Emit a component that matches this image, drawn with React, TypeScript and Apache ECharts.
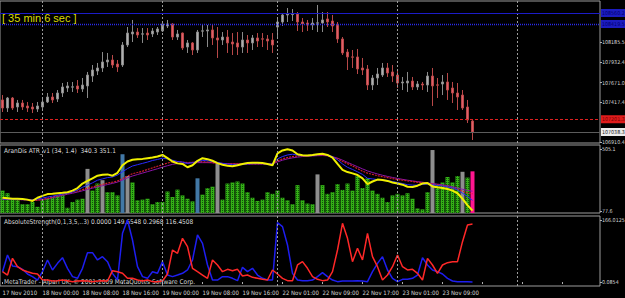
import React, { useEffect, useRef } from "react";
import * as echarts from "echarts";

// ---------- data ----------
const N_SLOTS = 120; // 95 hourly bars + empty chart shift on the right
const TICK_STEP = 8;
const TICK_LABELS = [
  "17 Nov 2010", "18 Nov 00:00", "18 Nov 08:00", "18 Nov 16:00",
  "19 Nov 00:00", "19 Nov 08:00", "19 Nov 16:00", "22 Nov 01:00",
  "22 Nov 09:00", "22 Nov 17:00", "23 Nov 01:00", "23 Nov 09:00",
];
const DAY_BREAKS = [8, 32, 55, 79, 103];

// [open, close, low, high]
const candles = [
  [107448, 107345, 107294, 107511], [107345, 107473, 107294, 107486], [107473, 107345, 107320, 107486], [107358, 107409, 107294, 107448], [107409, 107358, 107320, 107448],
  [107371, 107345, 107294, 107422], [107358, 107332, 107281, 107409], [107332, 107371, 107294, 107422], [107358, 107422, 107320, 107473], [107422, 107486, 107409, 107537],
  [107486, 107448, 107409, 107537], [107460, 107537, 107422, 107575], [107537, 107614, 107486, 107665], [107601, 107627, 107550, 107678], [107612, 107616, 107550, 107678],
  [107627, 107588, 107537, 107703], [107588, 107639, 107550, 107729], [107627, 107767, 107473, 107806], [107754, 107831, 107678, 107895], [107818, 107857, 107767, 107921],
  [107857, 107934, 107806, 108061], [107934, 107959, 107870, 108049], [107959, 107895, 107857, 108023], [107908, 107870, 107806, 107959], [107895, 108151, 107870, 108189],
  [108151, 108304, 108125, 108381], [108292, 108317, 108189, 108471], [108317, 108279, 108241, 108368], [108290, 108294, 108177, 108368], [108304, 108279, 108215, 108368],
  [108292, 108330, 108253, 108368], [108317, 108356, 108279, 108381], [108330, 108420, 108317, 108445], [108394, 108420, 108368, 108471], [108420, 108253, 108215, 108432],
  [108253, 108292, 108215, 108343], [108304, 108113, 108087, 108310], [108125, 108177, 108049, 108215], [108177, 108087, 108023, 108189], [108087, 108317, 108049, 108343],
  [108328, 108332, 108253, 108407], [108330, 108343, 108125, 108407], [108343, 108241, 108151, 108407], [108241, 108215, 107985, 108381], [108215, 108253, 108151, 108317],
  [108253, 108177, 108049, 108343], [108189, 108164, 108023, 108304], [108177, 108125, 108023, 108317], [108125, 108215, 108049, 108317], [108215, 108177, 108049, 108279],
  [108177, 108241, 108087, 108279], [108241, 108202, 108125, 108304], [108230, 108226, 108125, 108304], [108228, 108202, 108087, 108279], [108215, 108151, 108049, 108304],
  [108381, 108445, 108253, 108509], [108445, 108535, 108394, 108560], [108535, 108547, 108445, 108624], [108540, 108552, 108458, 108611], [108547, 108445, 108330, 108573],
  [108445, 108420, 108317, 108496], [108432, 108407, 108330, 108471], [108407, 108432, 108343, 108496], [108430, 108434, 108317, 108663], [108432, 108471, 108317, 108573],
  [108484, 108445, 108381, 108573], [108458, 108394, 108317, 108535], [108407, 108228, 108177, 108445], [108228, 108049, 108023, 108253], [108061, 107998, 107831, 108100],
  [107999, 107995, 107857, 108087], [107998, 107844, 107780, 108100], [107857, 107831, 107767, 107985], [107844, 107639, 107575, 107895], [107639, 107729, 107575, 107767],
  [107729, 107780, 107639, 107857], [107767, 107857, 107742, 107921], [107857, 107793, 107742, 107921], [107806, 107754, 107678, 107895], [107767, 107665, 107601, 107831],
  [107665, 107678, 107575, 107742], [107665, 107690, 107550, 107806], [107690, 107614, 107575, 107742], [107614, 107652, 107575, 107690], [107652, 107639, 107575, 107678],
  [107639, 107754, 107550, 107806], [107754, 107627, 107371, 107857], [107641, 107637, 107473, 107729], [107652, 107678, 107511, 107767], [107678, 107575, 107448, 107793],
  [107601, 107537, 107409, 107678], [107537, 107486, 107320, 107665], [107511, 107345, 107320, 107575], [107358, 107192, 107153, 107448], [107179, 107038.3, 106936, 107192],
];

const PRICE_TICKS = [106910.4, 107417.4, 107671.0, 107932.4, 108185.5];
const LEVEL_BLUE_SOLID = 108560.2;
const LEVEL_BLUE_DOTTED = 108419.5;
const LEVEL_RED = 107201.3;
const LEVEL_BID = 107038.3;

// AranDis ATR panel
const ATR_TICKS = [77.6, 505.1];
const atrHist = [
  218, 200, 162, 156, 124, 124, 140, 106, 151, 162,
  174, 185, 189, 100, 140, 156, 162, 368, 218, 267,
  290, 207, 207, 185, 469, 319, 274, 151, 156, 162,
  124, 140, 140, 212, 174, 225, 185, 162, 144, 303,
  190, 235, 245, 402, 156, 267, 274, 281, 267, 207,
  169, 147, 156, 207, 196, 218, 169, 151, 124, 256,
  151, 129, 124, 330, 256, 196, 207, 263, 223, 267,
  218, 319, 236, 303, 218, 196, 169, 140, 185, 196,
  185, 200, 162, 95, 89, 207, 498, 263, 274, 312,
  274, 319, 348, 308, 351.1,
];
const grayBarIdx = [17, 20, 25, 43, 63, 86, 92];
const blueBarIdx = [24, 39];
const pinkBarIdx = [94];

const atrYellow = [
  169, 165, 162, 162, 160, 156, 147, 169, 182, 194,
  196, 200, 203, 207, 218, 236, 267, 285, 303, 321,
  328, 330, 321, 341, 393, 419, 431, 435, 437, 442,
  446, 453, 464, 442, 419, 406, 402, 379, 393, 424,
  442, 435, 424, 408, 397, 390, 386, 393, 402, 408,
  411, 411, 408, 402, 393, 475, 495, 504, 495, 469,
  462, 460, 464, 469, 473, 464, 446, 402, 361, 346,
  337, 326, 303, 263, 281, 294, 292, 285, 274, 267,
  259, 245, 243, 252, 267, 270, 247, 241, 236, 229,
  218, 200, 162, 118, 80,
];
const atrBlue = [
  160, 160, 158, 158, 156, 156, 153, 160, 167, 174,
  180, 187, 194, 200, 209, 223, 241, 256, 272, 290,
  299, 308, 312, 326, 348, 370, 388, 397, 406, 415,
  426, 433, 442, 437, 428, 419, 415, 406, 411, 419,
  426, 424, 419, 413, 406, 402, 397, 397, 399, 402,
  404, 404, 404, 402, 402, 437, 453, 464, 469, 464,
  460, 460, 462, 466, 469, 464, 453, 431, 402, 379,
  364, 348, 330, 303, 299, 294, 292, 288, 281, 274,
  267, 259, 256, 256, 261, 263, 259, 254, 250, 243,
  236, 223, 200, 178, 151,
];
const atrRed = [
  162, 160, 158, 156, 156, 153, 151, 151, 156, 165,
  174, 183, 191, 200, 207, 216, 225, 234, 243, 252,
  261, 270, 276, 285, 301, 319, 335, 343, 352, 364,
  375, 386, 397, 408, 417, 419, 415, 411, 413, 419,
  417, 415, 411, 406, 404, 402, 402, 402, 402, 402,
  402, 402, 402, 402, 404, 424, 437, 446, 453, 457,
  460, 460, 462, 464, 464, 460, 451, 437, 419, 404,
  388, 370, 352, 339, 330, 321, 314, 308, 301, 294,
  290, 285, 281, 276, 272, 267, 263, 259, 252, 245,
  236, 225, 214, 203, 196,
];
const atrPurple = [
  160, 159, 158, 157, 156, 155, 154, 154, 157, 162,
  169, 177, 185, 193, 200, 208, 217, 226, 235, 244,
  252, 260, 268, 277, 291, 306, 319, 329, 339, 349,
  359, 369, 380, 390, 399, 405, 408, 409, 410, 411,
  411, 411, 410, 408, 406, 404, 403, 402, 402, 402,
  402, 402, 402, 402, 403, 416, 428, 437, 444, 449,
  453, 455, 457, 459, 460, 458, 452, 442, 428, 413,
  398, 383, 368, 354, 343, 333, 324, 316, 309, 302,
  296, 290, 285, 280, 276, 271, 267, 263, 258, 252,
  245, 236, 227, 220, 214,
];

// AbsoluteStrength panel
const AS_TICKS = [0.0854, 166.0125];
const asBlue = [
  27.7, 72.3, 42.9, 41.1, 34.0, 21.5, 14.4, 5.4, 27.7, 59.0,
  32.2, 50.0, 65.2, 36.7, 14.4, 9.9, 36.7, 78.6, 78.6, 59.0,
  67.9, 54.5, 23.3, 5.4, 130.3, 166.0, 112.5, 41.1, 14.4, 9.9,
  27.7, 23.3, 54.5, 18.8, 14.4, 18.8, 23.3, 32.2, 59.0, 125.9,
  103.6, 45.6, 5.4, 5.4, 14.4, 14.4, 9.9, 3.7, 39.3, 27.7,
  36.7, 18.8, 9.9, 5.4, 5.4, 158.9, 148.2, 99.1, 23.3, 5.4,
  3.7, 3.7, 5.4, 14.4, 25.1, 14.4, 5.4, 1.0, 2.8, 2.8,
  2.8, 3.7, 2.8, 1.0, 27.7, 50.0, 67.9, 32.2, 9.9, 1.0,
  7.2, 7.2, 9.9, 18.8, 65.2, 45.6, 32.2, 27.7, 21.5, 9.9,
  2.8, 1.0, 1.0, 1.0, 0.3,
];
const asRed = [
  27.7, 18.8, 63.4, 41.1, 32.2, 27.7, 23.3, 21.5, 5.4, 5.4,
  2.8, 3.7, 5.4, 3.7, 1.0, 2.8, 3.7, 2.8, 1.0, 2.8,
  3.7, 2.8, 30.4, 27.7, 23.3, 9.9, 9.9, 5.4, 2.8, 5.4,
  1.0, 1.0, 2.8, 21.5, 85.7, 76.8, 116.9, 94.6, 36.7, 27.7,
  18.8, 9.9, 59.0, 45.6, 27.7, 34.0, 30.4, 34.0, 16.2, 18.8,
  12.6, 9.9, 7.2, 5.4, 32.2, 21.5, 9.9, 3.7, 3.7, 45.6,
  54.5, 36.7, 14.4, 7.2, 3.7, 5.4, 27.7, 85.7, 157.1, 116.9,
  54.5, 90.2, 59.0, 130.3, 67.9, 41.1, 5.4, 18.8, 41.1, 72.3,
  41.1, 32.2, 34.0, 23.3, 5.4, 63.4, 45.6, 23.3, 45.6, 51.8,
  54.5, 54.5, 108.0, 152.6, 155.0,
];

const TIMER_TEXT = "[ 35 min 6 sec ]";
const ATR_TITLE = "AranDis ATR_v1 (34, 1.4)  340.3 351.1";
const AS_TITLE = "AbsoluteStrength(0,1,3,5,..3) 0.0000 149.6548 0.2968 116.4508";
const COPYRIGHT = "MetaTrader - Alpari UK, \u00a9 2001-2009 MetaQuotes Software Corp.";

// ---------- styles ----------
const FONT = "'Liberation Sans Narrow', 'DejaVu Sans Condensed', 'Liberation Sans', Arial, sans-serif";
const TXT = "#d8d8d8";
const FS = 6.5;
const AXIS_FS = 5.3;

export default function App() {
  const ref = useRef<HTMLDivElement>(null);

  useEffect(() => {
    document.body.style.margin = "0";
    document.body.style.background = "#000";
    const chart = echarts.init(ref.current!, null, { renderer: "svg" });
    const slots = Array.from({ length: N_SLOTS }, (_, i) => String(i));

    const dayLineStyle = { color: "#9c9c9c", width: 1, type: [2, 2] as number[] };
    const dayLines = DAY_BREAKS.map((i) => ({ xAxis: String(i), lineStyle: dayLineStyle }));

    const priceLabel = (text: string, bg: string, fg: string) => ({
      show: true,
      position: "end",
      distance: 1,
      formatter: text,
      color: fg,
      backgroundColor: bg,
      padding: [1, 1, 0, 1],
      fontSize: AXIS_FS,
      lineHeight: 7,
      fontFamily: FONT,
    });

    const grids = [
      { left: 0, right: 25, top: 1, height: 142 },
      { left: 0, right: 25, top: 145, height: 68 },
      { left: 0, right: 25, top: 216, height: 70 },
    ].map((g) => ({
      ...g,
      show: true,
      containLabel: false,
      outerBoundsMode: "none",
      borderColor: "#9c9c9c",
      borderWidth: 1,
      backgroundColor: "transparent",
    }));

    const xAxes = [0, 1, 2].map((gi) => ({
      type: "category",
      gridIndex: gi,
      data: slots,
      boundaryGap: true,
      axisLine: { show: false },
      splitLine: { show: false },
      axisTick:
        gi === 2
          ? { show: true, interval: TICK_STEP - 1, alignWithLabel: true, length: 2, lineStyle: { color: "#b0b0b0" } }
          : { show: false },
      axisLabel:
        gi === 2
          ? {
              show: true,
              interval: TICK_STEP - 1,
              align: "left",
              margin: 3,
              color: TXT,
              fontSize: 6,
              fontFamily: FONT,
              formatter: (_v: string, idx: number) =>
                idx % TICK_STEP === 0 ? TICK_LABELS[idx / TICK_STEP] ?? "" : "",
            }
          : { show: false },
    }));

    const yAxis = (gi: number, min: number, max: number, ticks: number[], digits: number) => ({
      type: "value",
      gridIndex: gi,
      position: "right",
      min,
      max,
      scale: true,
      axisLine: { show: false },
      splitLine: { show: false },
      axisTick: { show: true, length: 2, customValues: ticks, lineStyle: { color: "#b0b0b0" } },
      axisLabel: {
        show: true,
        customValues: ticks,
        margin: 2,
        color: TXT,
        fontSize: AXIS_FS,
        fontFamily: FONT,
        formatter: (v: number) => v.toFixed(digits),
      },
    });

    const histData = atrHist.map((v, i) => {
      let color = "#34b016";
      let decal: any = { symbol: "rect", symbolSize: 1, color: "rgba(0,45,0,0.7)", dashArrayX: [1, 1], dashArrayY: [1, 1] };
      if (grayBarIdx.includes(i)) { color = "#8e8e8e"; decal = undefined; }
      if (blueBarIdx.includes(i)) { color = "#4278a6"; decal = undefined; }
      if (pinkBarIdx.includes(i)) { color = "#ff1690"; decal = undefined; }
      return { value: v, itemStyle: decal ? { color, decal } : { color } };
    });

    const line = (xi: number, data: number[], color: string, width: number, type: any = "solid", z = 3) => ({
      type: "line",
      xAxisIndex: xi,
      yAxisIndex: xi,
      data,
      symbol: "none",
      z,
      lineStyle: { color, width, type },
      silent: true,
    });

    const option: any = {
      animation: false,
      backgroundColor: "#000000",
      grid: grids,
      xAxis: xAxes,
      yAxis: [
        yAxis(0, 106897.5, 108713.7, PRICE_TICKS, 1),
        yAxis(1, 63.8, 532.7, ATR_TICKS, 1),
        yAxis(2, -10.62, 176.7, AS_TICKS, 4),
      ],
      series: [
        {
          type: "candlestick",
          xAxisIndex: 0,
          yAxisIndex: 0,
          data: candles,
          barWidth: 3,
          itemStyle: {
            color: "#b0b0b0",
            color0: "#e0606a",
            borderColor: "#8a8a8a",
            borderColor0: "#b84848",
            borderWidth: 1,
          },
          markLine: {
            silent: true,
            symbol: ["none", "none"],
            label: { show: false },
            data: [
              ...dayLines,
              { yAxis: LEVEL_BLUE_SOLID, lineStyle: { color: "#1c1cc8", width: 1, type: "solid" }, label: priceLabel("108560.2", "#1c1cc0", "#000070") },
              { yAxis: LEVEL_BLUE_DOTTED, lineStyle: { color: "#2a2ae6", width: 1.4, type: [1, 1] }, label: priceLabel("108419.5", "#1c1cc0", "#000070") },
              { yAxis: LEVEL_RED, lineStyle: { color: "#e02020", width: 1, type: [3, 2] }, label: priceLabel("107201.3", "#e01c1c", "#700000") },
              { yAxis: LEVEL_BID, lineStyle: { color: "#5c5c5c", width: 1, type: "solid" }, label: priceLabel("107038.3", "#ececec", "#202020") },
            ],
          },
        },
        {
          type: "bar",
          xAxisIndex: 1,
          yAxisIndex: 1,
          data: histData,
          barWidth: 4,
          clip: true,
          silent: true,
          markLine: {
            silent: true,
            symbol: ["none", "none"],
            label: { show: false },
            data: dayLines,
          },
        },
        line(1, atrPurple, "#8a14a8", 1),
        line(1, atrRed, "#d01c2c", 1.2, [2, 1]),
        line(1, atrBlue, "#2a2aff", 1),
        line(1, atrYellow, "#f0f000", 2, "solid", 4),
        {
          ...line(2, asBlue, "#1e1ef0", 1.5),
          markLine: {
            silent: true,
            symbol: ["none", "none"],
            label: { show: false },
            data: dayLines,
          },
        },
        line(2, asRed, "#ff2828", 1.5),
      ],
      graphic: [
        {
          type: "text",
          x: 2,
          y: 18,
          silent: true,
          style: { text: TIMER_TEXT, fill: "#dcdc00", fontSize: 11, fontFamily: "'Liberation Sans', Arial, sans-serif", verticalAlign: "middle" },
        },
        {
          type: "text",
          x: 4,
          y: 150.5,
          silent: true,
          style: { text: ATR_TITLE, fill: TXT, fontSize: FS, fontFamily: FONT, verticalAlign: "middle" },
        },
        {
          type: "text",
          x: 4,
          y: 222,
          silent: true,
          style: { text: AS_TITLE, fill: TXT, fontSize: FS, fontFamily: FONT, verticalAlign: "middle" },
        },
        {
          type: "text",
          x: 4,
          y: 281.5,
          silent: true,
          style: { text: COPYRIGHT, fill: TXT, fontSize: FS, fontFamily: FONT, verticalAlign: "middle" },
        },
      ],
    };

    chart.setOption(option);
    return () => chart.dispose();
  }, []);

  return (
    <div
      ref={ref}
      style={{ position: "fixed", left: 0, top: 0, width: 625, height: 298, background: "#000" }}
    />
  );
}
